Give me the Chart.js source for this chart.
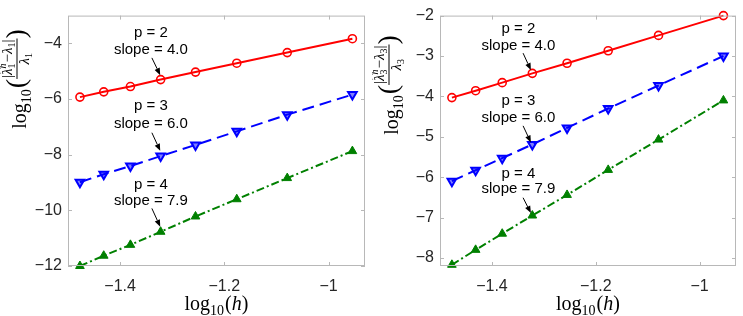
<!DOCTYPE html>
<html>
<head>
<meta charset="utf-8">
<script src="https://cdn.jsdelivr.net/npm/chart.js@4.4.1/dist/chart.umd.min.js"></script>
<style>
  body { margin: 0; background: #fff; }
  #wrap { position: relative; width: 743px; height: 316px; }
  canvas { position: absolute; top: 0; }
  #left { left: 0; }
  #right { left: 372px; }
</style>
</head>
<body>
<div id="wrap">
  <canvas id="left" width="372" height="316"></canvas>
  <canvas id="right" width="371" height="316"></canvas>
</div>
<script>
// log10(h) for h = 1/30, 1/27, 1/24, 1/21, 1/18, 1/15, 1/12, 1/9
const logH = [-1.4771, -1.4314, -1.3802, -1.3222, -1.2553, -1.1761, -1.0792, -0.9542];

// relative error of first eigenvalue (log10)
const lam1P2 = [-5.93, -5.74, -5.55, -5.30, -5.03, -4.71, -4.33, -3.83];
const lam1P3 = [-8.99, -8.70, -8.41, -8.05, -7.65, -7.16, -6.56, -5.84];
const lam1P4 = [-12.0, -11.63, -11.24, -10.77, -10.22, -9.60, -8.84, -7.87];

// relative error of third eigenvalue (log10)
const lam3P2 = [-4.03, -3.86, -3.66, -3.43, -3.18, -2.87, -2.49, -2.0];
const lam3P3 = [-6.10, -5.83, -5.53, -5.19, -4.78, -4.30, -3.73, -3.0];
const lam3P4 = [-8.17, -7.80, -7.40, -6.95, -6.44, -5.82, -5.07, -4.10];

const xTicks = [-1.4, -1.2, -1];
const lam1Ticks = [-12, -10, -8, -6, -4];
const lam3Ticks = [-8, -7, -6, -5, -4, -3, -2];

// slope notes: text lines + arrow (data units)
const lam1Notes = [
  { lines: ['p = 2', 'slope = 4.0'], x: -1.341, ys: [-3.62, -4.24], from: [-1.339, -4.52], to: [-1.323, -5.14] },
  { lines: ['p = 3', 'slope = 6.0'], x: -1.341, ys: [-6.24, -6.90], from: [-1.339, -7.21], to: [-1.323, -7.86] },
  { lines: ['p = 4', 'slope = 7.9'], x: -1.341, ys: [-9.10, -9.66], from: [-1.339, -9.93], to: [-1.323, -10.59] }
];
const lam3Notes = [
  { lines: ['p = 2', 'slope = 4.0'], x: -1.349, ys: [-2.33, -2.74], from: [-1.340, -2.93], to: [-1.325, -3.35] },
  { lines: ['p = 3', 'slope = 6.0'], x: -1.349, ys: [-4.11, -4.52], from: [-1.340, -4.73], to: [-1.325, -5.14] },
  { lines: ['p = 4', 'slope = 7.9'], x: -1.349, ys: [-5.92, -6.30], from: [-1.340, -6.51], to: [-1.325, -6.89] }
];

const SANS = '"Liberation Sans", Arial, Helvetica, sans-serif';
const SERIF = '"Liberation Serif", "Times New Roman", serif';
const AXIS_GRAY = '#b8b8b8';
const TEXT = '#262626';

function pts(ys) {
  return logH.map((x, i) => ({ x: x, y: ys[i] }));
}

function tickText(v) {
  return String(v).replace('-', '\u2212');
}

// x label: log_10(h)
function drawXTitle(ctx, cx, baseY) {
  ctx.save();
  ctx.fillStyle = '#000';
  ctx.textBaseline = 'alphabetic';
  const parts = [
    { t: 'log', f: '20px ' + SERIF, dy: 0 },
    { t: '10', f: '14px ' + SERIF, dy: 5 },
    { t: '(', f: '20px ' + SERIF, dy: 0, pad: 1 },
    { t: 'h', f: 'italic 20px ' + SERIF, dy: 0 },
    { t: ')', f: '20px ' + SERIF, dy: 0 }
  ];
  let total = 0;
  parts.forEach(p => { ctx.font = p.f; p.w = ctx.measureText(p.t).width; total += p.w + (p.pad || 0); });
  let x = cx - total / 2;
  parts.forEach(p => {
    x += p.pad || 0;
    ctx.font = p.f;
    ctx.fillText(p.t, x, baseY + p.dy);
    x += p.w;
  });
  ctx.restore();
}

// y label: log_10( |lambda-hat_i^h - lambda_i| / lambda_i ), rotated
function drawYTitle(ctx, idx, baseX, centerY) {
  const big = '20px ' + SERIF, small = '15px ' + SERIF, tiny = '10px ' + SERIF;
  const it = 'italic 15px ' + SERIF, itTiny = 'italic 10px ' + SERIF, par = '28px ' + SERIF;
  ctx.save();
  ctx.font = big; const wLog = ctx.measureText('log').width;
  ctx.font = '14px ' + SERIF; const w10 = ctx.measureText('10').width;
  ctx.font = par; const wPar = ctx.measureText('(').width;
  ctx.font = small; const wBar = ctx.measureText('|').width;
  const wMinus = ctx.measureText('\u2212').width;
  ctx.font = it; const wLam = ctx.measureText('\u03bb').width;
  ctx.font = itTiny; const wh = ctx.measureText('h').width;
  ctx.font = tiny; const wSub = ctx.measureText(idx).width;
  const wNum = wBar + wLam + Math.max(wh, wSub) + 1 + wMinus + wLam + wSub + wBar;
  const wDen = wLam + wSub;
  const wFrac = wNum + 2;
  const total = wLog + w10 + 1 + wPar + wFrac + wPar;

  ctx.translate(baseX, centerY + total / 2);
  ctx.rotate(-Math.PI / 2);
  ctx.fillStyle = '#000';
  ctx.strokeStyle = '#000';
  ctx.textBaseline = 'alphabetic';
  let u = 0;
  ctx.font = big; ctx.fillText('log', u, 0); u += wLog;
  ctx.font = '14px ' + SERIF; ctx.fillText('10', u, 5); u += w10 + 1;
  ctx.font = par; ctx.fillText('(', u, -1); u += wPar;

  const axis = -9;
  ctx.fillRect(u, axis - 0.5, wFrac, 1);

  // numerator
  let n = u + (wFrac - wNum) / 2;
  const nb = axis - 5;
  ctx.font = small; ctx.fillText('|', n, nb); n += wBar;
  ctx.font = it; ctx.fillText('\u03bb', n, nb);
  ctx.lineWidth = 0.8;
  ctx.beginPath();
  ctx.moveTo(n + 1.5, nb - 11.5);
  ctx.lineTo(n + wLam / 2 + 1, nb - 14);
  ctx.lineTo(n + wLam + 0.5, nb - 11.5);
  ctx.stroke();
  n += wLam;
  ctx.font = itTiny; ctx.fillText('h', n, nb - 6);
  ctx.font = tiny; ctx.fillText(idx, n, nb + 3);
  n += Math.max(wh, wSub) + 1;
  ctx.font = small; ctx.fillText('\u2212', n, nb); n += wMinus;
  ctx.font = it; ctx.fillText('\u03bb', n, nb); n += wLam;
  ctx.font = tiny; ctx.fillText(idx, n, nb + 3); n += wSub;
  ctx.font = small; ctx.fillText('|', n, nb);

  // denominator
  let d = u + (wFrac - wDen) / 2;
  const db = axis + 12;
  ctx.font = it; ctx.fillText('\u03bb', d, db); d += wLam;
  ctx.font = tiny; ctx.fillText(idx, d, db + 3);
  u += wFrac;

  ctx.font = par; ctx.fillText(')', u, -1);
  ctx.restore();
}

function drawArrow(ctx, x1, y1, x2, y2) {
  const ang = Math.atan2(y2 - y1, x2 - x1);
  const len = 7, half = 2.8;
  const bx = x2 - len * Math.cos(ang), by = y2 - len * Math.sin(ang);
  ctx.beginPath();
  ctx.moveTo(x1, y1);
  ctx.lineTo(bx, by);
  ctx.stroke();
  ctx.beginPath();
  ctx.moveTo(x2, y2);
  ctx.lineTo(bx + half * Math.sin(ang), by - half * Math.cos(ang));
  ctx.lineTo(bx - half * Math.sin(ang), by + half * Math.cos(ang));
  ctx.closePath();
  ctx.fill();
}

const matlabAxes = {
  id: 'matlabAxes',
  afterDraw(chart, args, opts) {
    const ctx = chart.ctx;
    const a = chart.chartArea;
    const xs = chart.scales.x, ys = chart.scales.y;
    ctx.save();
    // box
    ctx.strokeStyle = AXIS_GRAY;
    ctx.lineWidth = 1;
    ctx.strokeRect(a.left + 0.5, a.top + 0.5, a.right - a.left - 1, a.bottom - a.top - 1);
    // inward ticks
    ctx.beginPath();
    xs.ticks.forEach(t => {
      const px = Math.round(xs.getPixelForValue(t.value)) + 0.5;
      ctx.moveTo(px, a.bottom); ctx.lineTo(px, a.bottom - 4);
      ctx.moveTo(px, a.top); ctx.lineTo(px, a.top + 4);
    });
    ys.ticks.forEach(t => {
      const py = Math.round(ys.getPixelForValue(t.value)) + 0.5;
      ctx.moveTo(a.left, py); ctx.lineTo(a.left + 4, py);
      ctx.moveTo(a.right, py); ctx.lineTo(a.right - 4, py);
    });
    ctx.stroke();

    // slope notes
    ctx.fillStyle = '#000';
    ctx.strokeStyle = '#000';
    ctx.lineWidth = 1;
    ctx.font = '15px ' + SANS;
    ctx.textAlign = 'center';
    ctx.textBaseline = 'middle';
    opts.notes.forEach(n => {
      const px = xs.getPixelForValue(n.x);
      n.lines.forEach((s, i) => ctx.fillText(s, px, ys.getPixelForValue(n.ys[i])));
      drawArrow(ctx,
        xs.getPixelForValue(n.from[0]), ys.getPixelForValue(n.from[1]),
        xs.getPixelForValue(n.to[0]), ys.getPixelForValue(n.to[1]));
    });
    ctx.restore();

    drawXTitle(ctx, (a.left + a.right) / 2, 310);
    drawYTitle(ctx, opts.sub, 26, opts.titleY);
  }
};

function makeChart(id, s2, s3, s4, yMin, yMax, yTicks, notes, sub, titleY, rightPad) {
  const ctx = document.getElementById(id).getContext('2d');
  return new Chart(ctx, {
    type: 'line',
    data: {
      datasets: [
        {
          data: pts(s2),
          borderColor: '#ff0000',
          borderWidth: 2,
          pointStyle: 'circle',
          pointRadius: 4,
          pointBorderWidth: 1.6,
          pointBorderColor: '#ff0000',
          pointBackgroundColor: 'rgba(255,255,255,0)',
          clip: false
        },
        {
          data: pts(s3),
          borderColor: '#0000ff',
          borderWidth: 2,
          borderDash: [12, 6],
          pointStyle: 'triangle',
          rotation: 180,
          pointRadius: 5,
          pointBorderWidth: 2,
          pointBorderColor: '#0000ff',
          pointBackgroundColor: 'rgba(0,0,255,0.5)',
          clip: false
        },
        {
          data: pts(s4),
          borderColor: '#008000',
          borderWidth: 2,
          borderDash: [8, 3, 2, 3],
          pointStyle: 'triangle',
          pointRadius: 5,
          pointBorderWidth: 1,
          pointBorderColor: '#008000',
          pointBackgroundColor: '#008000',
          clip: false
        }
      ]
    },
    options: {
      responsive: false,
      animation: false,
      layout: { padding: { top: 5, right: rightPad, left: 0, bottom: 0 } },
      plugins: {
        legend: { display: false },
        tooltip: { enabled: false },
        matlabAxes: { notes: notes, sub: sub, titleY: titleY }
      },
      scales: {
        x: {
          type: 'linear',
          min: -1.5,
          max: -0.93,
          grid: { display: false, drawTicks: false },
          border: { display: false },
          ticks: {
            font: { family: SANS, size: 16 },
            color: TEXT,
            padding: 11,
            maxRotation: 0,
            callback: tickText
          },
          afterBuildTicks: s => { s.ticks = xTicks.map(v => ({ value: v })); },
          afterFit: s => { s.height = 50; }
        },
        y: {
          type: 'linear',
          min: yMin,
          max: yMax,
          grid: { display: false, drawTicks: false },
          border: { display: false },
          ticks: {
            font: { family: SANS, size: 16 },
            color: TEXT,
            padding: 6,
            callback: tickText
          },
          afterBuildTicks: s => { s.ticks = yTicks.map(v => ({ value: v })); },
          afterFit: s => { s.width = 68; }
        }
      }
    },
    plugins: [matlabAxes]
  });
}

makeChart('left', lam1P2, lam1P3, lam1P4, -12, -3, lam1Ticks, lam1Notes, '1', 79, 6);
makeChart('right', lam3P2, lam3P3, lam3P4, -8.2, -2, lam3Ticks, lam3Notes, '3', 85, 5);
</script>
</body>
</html>
